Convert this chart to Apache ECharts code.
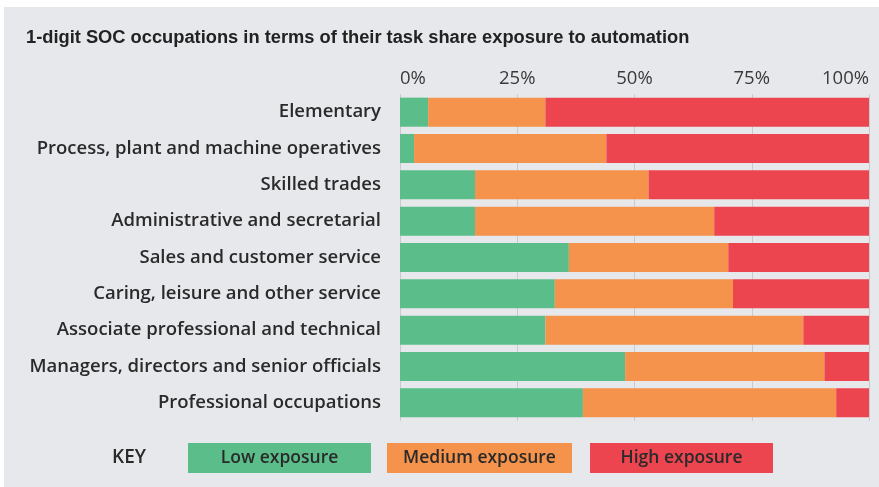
<!DOCTYPE html>
<html><head><meta charset="utf-8">
<script src="https://cdn.jsdelivr.net/npm/echarts@6/dist/echarts.min.js"></script>
<style>html,body{margin:0;padding:0;background:#fff;}#c{width:879px;height:487px;}</style>
</head><body><div id="c"></div>
<script>
const categories = ['Elementary','Process, plant and machine operatives','Skilled trades','Administrative and secretarial','Sales and customer service','Caring, leisure and other service','Associate professional and technical','Managers, directors and senior officials','Professional occupations'];
const lowExposure =    [6, 3, 16, 16, 36, 33, 31, 48, 39];
const mediumExposure = [25, 41, 37, 51, 34, 38, 55, 42.5, 54];
const highExposure =   [69, 56, 47, 33, 30, 29, 14, 9.5, 7];
const seriesNames = ['Low exposure','Medium exposure','High exposure'];
const colors = ['#5BBE8A','#F5924B','#ED4550'];
const xTicks = [0, 25, 50, 75, 100];

const FONT = '"Open Sans", "Liberation Sans", Arial, sans-serif';
const chart = echarts.init(document.getElementById('c'));
const dataSets = [lowExposure, mediumExposure, highExposure];
const boxLeft = [188, 387, 590];
const boxW = [183, 185, 183];
const legendGraphics = [];
seriesNames.forEach((n, i) => {
  legendGraphics.push({ type: 'rect', left: boxLeft[i], top: 443, shape: { width: boxW[i], height: 30 }, style: { fill: colors[i] } });
  legendGraphics.push({ type: 'text', x: boxLeft[i] + boxW[i] / 2, y: 458, style: { text: n, font: '600 17.5px ' + FONT, fill: '#2a2a2a', textAlign: 'center', textVerticalAlign: 'middle' } });
});
chart.setOption({
  backgroundColor: '#fff',
  animation: false,
  textStyle: { fontFamily: FONT },
  graphic: [
    { type: 'rect', z: -10, left: 4, top: 7, shape: { width: 875, height: 480 }, style: { fill: '#E7E8EC' } },
    { type: 'text', x: 26, y: 38, style: { text: '1-digit SOC occupations in terms of their task share exposure to automation', font: 'bold 18.3px "Liberation Sans", Arial, sans-serif', fill: '#222', textVerticalAlign: 'middle' } },
    { type: 'text', x: 112, y: 458, style: { text: 'KEY', font: '600 19px ' + FONT, fill: '#2a2a2a', textVerticalAlign: 'middle' } }
  ].concat(legendGraphics),
  grid: { left: 400, right: 10, top: 94, bottom: 66, containLabel: false },
  xAxis: {
    type: 'value', position: 'top', min: 0, max: 100, interval: 25,
    axisLine: { show: false }, axisTick: { show: false },
    splitLine: { show: true, lineStyle: { color: '#C9CACF', width: 1 } },
    axisLabel: { formatter: v => xTicks.includes(v) ? v + '%' : '', fontSize: 18.5, color: '#3a3a3a', margin: 6, alignMinLabel: 'left', alignMaxLabel: 'right' }
  },
  yAxis: {
    type: 'category', data: categories, inverse: true,
    axisLine: { show: false }, axisTick: { show: false },
    axisLabel: { fontSize: 18.5, fontWeight: 600, color: '#2a2a2a', margin: 19 }
  },
  series: seriesNames.map((n, i) => ({
    name: n, type: 'bar', stack: 'total', data: dataSets[i], barWidth: '80%',
    itemStyle: { color: colors[i] }
  }))
});
</script></body></html>
